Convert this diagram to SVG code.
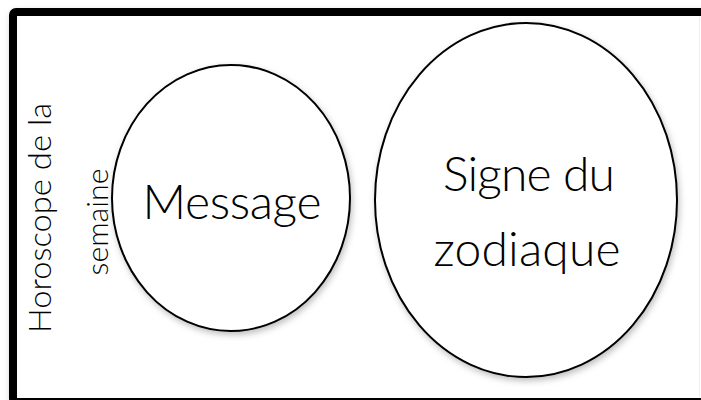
<svg xmlns="http://www.w3.org/2000/svg" width="701" height="400" viewBox="0 0 701 400">
<style>
.frame{fill:#fff;stroke:#000;stroke-width:8}
.bubble{fill:#fff;stroke:#000;stroke-width:2}
.big{font-family:Lato,"Open Sans","DejaVu Sans",sans-serif;font-weight:300;fill:#000;text-anchor:middle}
.side{font-family:Lato,"Liberation Sans",sans-serif;font-weight:300;fill:#000;text-anchor:middle}
</style>
<defs>
<filter id="sh" x="-10%" y="-10%" width="120%" height="120%">
<feDropShadow dx="1.5" dy="3" stdDeviation="3" flood-color="#000" flood-opacity="0.25"/>
</filter>
</defs>
<rect width="701" height="400" fill="#fff"/>
<g id="frame">
<rect class="frame" x="13" y="12" width="700" height="390" rx="3" filter="url(#sh)"/>
<line x1="699.5" y1="17" x2="699.5" y2="397" stroke="#eee" stroke-width="1"/>
</g>
<g id="title">
<text class="side" font-size="32" transform="translate(51,218) rotate(-90)" textLength="230" lengthAdjust="spacingAndGlyphs">Horoscope de la</text>
<text class="side" font-size="30" transform="translate(108,222) rotate(-90)" textLength="107" lengthAdjust="spacingAndGlyphs">semaine</text>
</g>
<g id="message">
<ellipse class="bubble" cx="231" cy="198" rx="119" ry="133" filter="url(#sh)"/>
<text class="big" x="232" y="219" font-size="48" textLength="179" lengthAdjust="spacing">Message</text>
</g>
<g id="signe">
<ellipse class="bubble" cx="526" cy="200" rx="151" ry="177" filter="url(#sh)"/>
<text class="big" x="529" y="191" font-size="48" textLength="172" lengthAdjust="spacing">Signe du</text>
<text class="big" x="527" y="266" font-size="48" textLength="187" lengthAdjust="spacing">zodiaque</text>
</g>
<g id="connectors"/>
</svg>
